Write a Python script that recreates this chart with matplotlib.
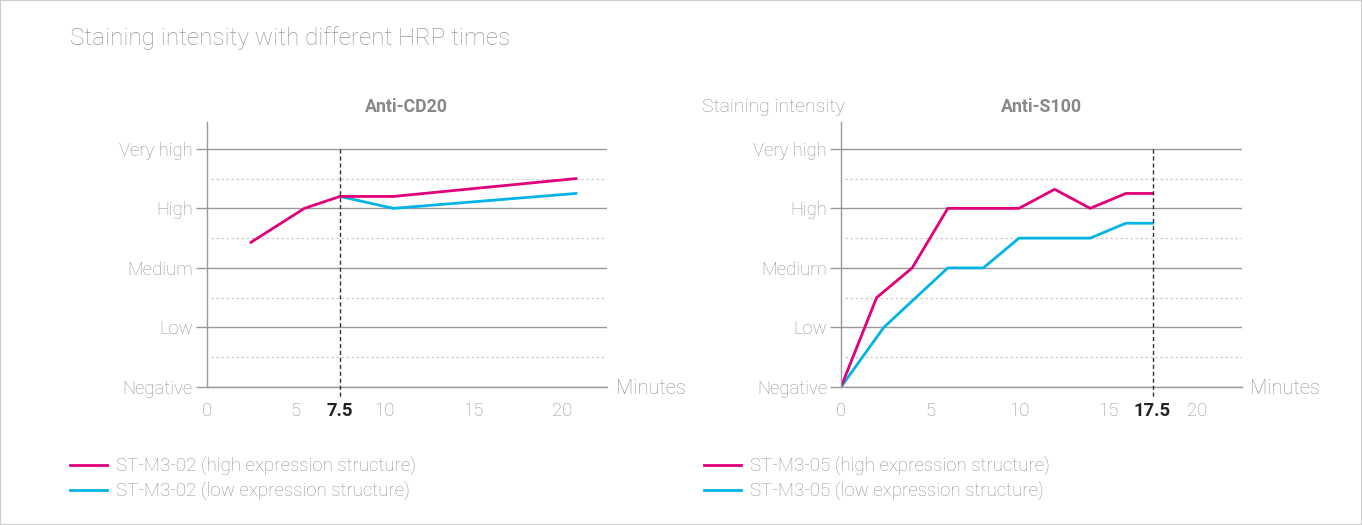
import matplotlib.pyplot as plt
from matplotlib.patches import Rectangle

plt.rcParams['font.family'] = ['Roboto', 'DejaVu Sans']

# níveis de intensidade (eixo y) e marcas de minutos (eixo x)
niveis = ['Negative', 'Low', 'Medium', 'High', 'Very high']
minutos_cd20 = [0, 5, 7.5, 10, 15, 20]
minutos_s100 = [0, 5, 10, 15, 17.5, 20]

# Anti-CD20
cd20_alta_x = [2.5, 5.5, 7.5, 10.5, 20.75]
cd20_alta_y = [2.43, 3.0, 3.2, 3.2, 3.5]
cd20_baixa_x = [7.5, 10.5, 20.75]
cd20_baixa_y = [3.2, 3.0, 3.25]

# Anti-S100
s100_alta_x = [0, 2, 4, 6, 10, 12, 14, 16, 17.5]
s100_alta_y = [0, 1.5, 2, 3, 3, 3.32, 3, 3.25, 3.25]
s100_baixa_x = [0, 2.4, 6, 8, 10, 14, 16, 17.5]
s100_baixa_y = [0, 1, 2, 2, 2.5, 2.5, 2.75, 2.75]

MAGENTA = '#e2007a'
CIANO = '#00b4e6'
CINZA = '#999999'
TEXTO = '#929292'
PESO = 'light'


def montar_eixo(ax, ticks, destaque, titulo):
    ax.set_xlim(0, 22.5)
    ax.set_ylim(0, 4.45)
    for s in ['top', 'right']:
        ax.spines[s].set_visible(False)
    for s in ['left', 'bottom']:
        ax.spines[s].set_color(CINZA)
        ax.spines[s].set_linewidth(1)
    ax.set_yticks(range(5))
    ax.set_yticklabels(niveis, fontweight=PESO)
    ax.tick_params(axis='y', length=8, width=1, color=CINZA, pad=2,
                   labelsize=13.3, labelcolor=TEXTO)
    ax.grid(axis='y', color=CINZA, linewidth=1)
    ax.hlines([0.5, 1.5, 2.5, 3.5], 0.25, 22.5, colors='#cccccc',
              linestyles=(0, (2, 2)), linewidth=0.9)
    ax.set_xticks(ticks)
    ax.set_xticklabels([('%g' % t) for t in ticks], fontweight=PESO)
    ax.tick_params(axis='x', length=0, pad=11, labelsize=13.3, labelcolor=TEXTO)
    for lbl, t in zip(ax.get_xticklabels(), ticks):
        if t == destaque:
            lbl.set_fontweight('bold')
            lbl.set_color('#222222')
    ax.plot([destaque, destaque], [4, -0.2], color='#333333', linewidth=1,
            linestyle=(0, (3, 2)), clip_on=False, zorder=4)
    ax.text(0.5, 1.057, titulo, transform=ax.transAxes, ha='center',
            va='center', fontsize=12.8, fontweight='bold', color='#888888')
    ax.text(1.022, -0.005, 'Minutes', transform=ax.transAxes, ha='left',
            va='center', fontsize=14.5, color=TEXTO, fontweight=PESO)
    ax.set_axisbelow(True)


fig = plt.figure(figsize=(13.62, 5.25), dpi=100)
fig.patches.append(Rectangle((0, 0), 1, 1, transform=fig.transFigure,
                             fill=False, edgecolor='#cccccc', linewidth=1.5))

ax1 = fig.add_axes([206.5 / 1362, 138 / 525, 400.5 / 1362, 265 / 525])
ax2 = fig.add_axes([841 / 1362, 138 / 525, 400.5 / 1362, 265 / 525])

montar_eixo(ax1, minutos_cd20, 7.5, 'Anti-CD20')
montar_eixo(ax2, minutos_s100, 17.5, 'Anti-S100')

l1, = ax1.plot(cd20_baixa_x, cd20_baixa_y, color=CIANO, linewidth=2)
l2, = ax1.plot(cd20_alta_x, cd20_alta_y, color=MAGENTA, linewidth=2)
l3, = ax2.plot(s100_baixa_x, s100_baixa_y, color=CIANO, linewidth=2)
l4, = ax2.plot(s100_alta_x, s100_alta_y, color=MAGENTA, linewidth=2)

ax2.text(0.01, 1.057, 'Staining intensity', transform=ax2.transAxes,
         ha='right', va='center', fontsize=14, color=TEXTO, fontweight=PESO)

fig.text(70 / 1362, 1 - 38 / 525, 'Staining intensity with different HRP times',
         ha='left', va='center', fontsize=17.5, color='#999999', fontweight=PESO)

leg_kw = dict(loc='center left', frameon=False, handlelength=1.95,
              handletextpad=0.5, labelspacing=0.33, borderpad=0,
              borderaxespad=0, labelcolor=TEXTO,
              prop={'size': 13.5, 'weight': PESO})
fig.legend([l2, l1], ['ST-M3-02 (high expression structure)',
                      'ST-M3-02 (low expression structure)'],
           bbox_to_anchor=(70 / 1362, 1 - 479 / 525), **leg_kw)
fig.legend([l4, l3], ['ST-M3-05 (high expression structure)',
                      'ST-M3-05 (low expression structure)'],
           bbox_to_anchor=(704 / 1362, 1 - 479 / 525), **leg_kw)

plt.savefig('out.png', dpi=100)
